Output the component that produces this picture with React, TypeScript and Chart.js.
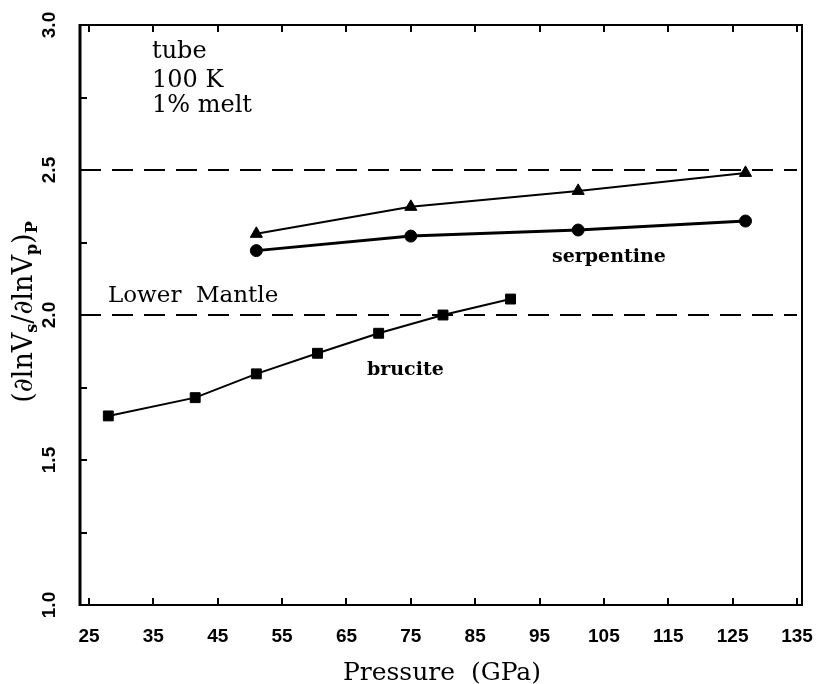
import React, { useEffect, useRef } from "react";
import { Chart, registerables } from "chart.js";

Chart.register(...registerables);

// Data
const brucitePressure = [28, 41.5, 51, 60.5, 70, 80, 90.5];
const bruciteRatio = [1.652, 1.715, 1.797, 1.868, 1.937, 2.0, 2.055];
const serpPressure = [51, 75, 101, 127];
const serpCircleRatio = [2.222, 2.272, 2.293, 2.324];
const serpTriangleRatio = [2.28, 2.373, 2.428, 2.49];
const referenceLevels = [2.5, 2.0];
const referenceSpan = [23.6, 135];

const xTickValues = [25, 35, 45, 55, 65, 75, 85, 95, 105, 115, 125, 135];
const xTickLabels = ["25", "35", "45", "55", "65", "75", "85", "95", "105", "115", "125", "135"];
const yTickValues = [1.0, 1.25, 1.5, 1.75, 2.0, 2.25, 2.5, 2.75, 3.0];
const yLabelValues = [1.0, 1.5, 2.0, 2.5, 3.0];
const yLabelTexts = ["1.0", "1.5", "2.0", "2.5", "3.0"];

const SERIF = "'DejaVu Serif', serif";
const TICKFONT = "bold 19px 'Liberation Sans', Arial, sans-serif";

const decorPlugin = {
  id: "decor",
  afterDraw(chart: any) {
    const ctx = chart.ctx as CanvasRenderingContext2D;
    const { left, right, top, bottom } = chart.chartArea;
    const xs = chart.scales.x;
    const ys = chart.scales.y;
    ctx.save();
    ctx.strokeStyle = "#000";
    ctx.fillStyle = "#000";
    // frame
    ctx.lineWidth = 2;
    ctx.beginPath();
    ctx.moveTo(left, top);
    ctx.lineTo(right, top);
    ctx.lineTo(right, bottom);
    ctx.lineTo(left, bottom);
    ctx.stroke();
    ctx.lineWidth = 3;
    ctx.beginPath();
    ctx.moveTo(left, top - 1);
    ctx.lineTo(left, bottom + 1);
    ctx.stroke();
    // x ticks (bottom and top, inward)
    ctx.lineWidth = 2;
    ctx.beginPath();
    xTickValues.forEach((v) => {
      const px = Math.round(xs.getPixelForValue(v));
      ctx.moveTo(px, bottom);
      ctx.lineTo(px, bottom - 7);
      ctx.moveTo(px, top);
      ctx.lineTo(px, top + 7);
    });
    // y ticks (left, inward)
    yTickValues.forEach((v) => {
      const py = Math.round(ys.getPixelForValue(v));
      ctx.moveTo(left, py);
      ctx.lineTo(left + 7, py);
    });
    ctx.stroke();
    // x tick labels
    ctx.font = TICKFONT;
    ctx.textAlign = "center";
    ctx.textBaseline = "middle";
    xTickValues.forEach((v, i) => {
      ctx.fillText(xTickLabels[i], xs.getPixelForValue(v), 637);
    });
    // y tick labels rotated
    yLabelValues.forEach((v, i) => {
      ctx.save();
      ctx.translate(50, ys.getPixelForValue(v));
      ctx.rotate(-Math.PI / 2);
      ctx.fillText(yLabelTexts[i], 0, 0);
      ctx.restore();
    });
    // x title
    ctx.font = `25px ${SERIF}`;
    ctx.textAlign = "center";
    ctx.textBaseline = "alphabetic";
    ctx.fillText("Pressure  (GPa)", 442, 680);
    // y title with subscripts
    const parts: [string, boolean][] = [
      ["(\u2202lnV", false],
      ["s", true],
      ["/\u2202lnV", false],
      ["p", true],
      [")", false],
      ["P", true],
    ];
    const mainFont = `27px ${SERIF}`;
    const subFont = `bold 16px ${SERIF}`;
    let total = 0;
    parts.forEach(([t, sub]) => {
      ctx.font = sub ? subFont : mainFont;
      total += ctx.measureText(t).width;
    });
    ctx.save();
    ctx.translate(32, 312);
    ctx.rotate(-Math.PI / 2);
    ctx.textAlign = "left";
    let cx = -total / 2;
    parts.forEach(([t, sub]) => {
      ctx.font = sub ? subFont : mainFont;
      ctx.fillText(t, cx, sub ? 5 : 0);
      cx += ctx.measureText(t).width;
    });
    ctx.restore();
    // annotations
    ctx.textAlign = "left";
    ctx.font = `24px ${SERIF}`;
    ctx.fillText("tube", 152, 58);
    ctx.fillText("100 K", 152, 87);
    ctx.fillText("1% melt", 152, 112);
    ctx.font = `23px ${SERIF}`;
    ctx.fillText("Lower  Mantle", 108, 302);
    ctx.font = `bold 19px ${SERIF}`;
    ctx.fillText("serpentine", 552, 262);
    ctx.fillText("brucite", 367, 375);
    ctx.restore();
  },
};

export default function App() {
  const ref = useRef<HTMLCanvasElement>(null);
  useEffect(() => {
    if (!ref.current) return;
    const toPts = (xs: number[], ys: number[]) => xs.map((x, i) => ({ x, y: ys[i] }));
    const chart = new Chart(ref.current, {
      type: "line",
      data: {
        datasets: [
          ...referenceLevels.map((lvl) => ({
            label: `ref ${lvl}`,
            data: referenceSpan.map((x) => ({ x, y: lvl })),
            borderColor: "#000",
            borderWidth: 2,
            borderDash: [21, 11],
            pointRadius: 0,
            fill: false,
          })),
          {
            label: "serpentine triangle",
            data: toPts(serpPressure, serpTriangleRatio),
            borderColor: "#000",
            backgroundColor: "#000",
            borderWidth: 2,
            pointStyle: "triangle",
            pointRadius: 7,
            pointBorderWidth: 1,
            fill: false,
          },
          {
            label: "serpentine circle",
            data: toPts(serpPressure, serpCircleRatio),
            borderColor: "#000",
            backgroundColor: "#000",
            borderWidth: 3,
            pointStyle: "circle",
            pointRadius: 6,
            pointBorderWidth: 1,
            fill: false,
          },
          {
            label: "brucite",
            data: toPts(brucitePressure, bruciteRatio),
            borderColor: "#000",
            backgroundColor: "#000",
            borderWidth: 2,
            pointStyle: "rect",
            pointRadius: 7,
            pointBorderWidth: 1,
            fill: false,
          },
        ],
      },
      options: {
        responsive: false,
        animation: false,
        events: [],
        layout: { padding: { left: 80, right: 15, top: 25, bottom: 79 } },
        plugins: { legend: { display: false }, tooltip: { enabled: false } },
        scales: {
          x: { type: "linear", min: 23.6, max: 135.78, display: false },
          y: { type: "linear", min: 1.0, max: 3.0, display: false },
        },
      },
      plugins: [decorPlugin],
    });
    return () => chart.destroy();
  }, []);
  return (
    <div style={{ position: "fixed", left: 0, top: 0, width: 817, height: 684, background: "#fff" }}>
      <canvas ref={ref} width={817} height={684} />
    </div>
  );
}
